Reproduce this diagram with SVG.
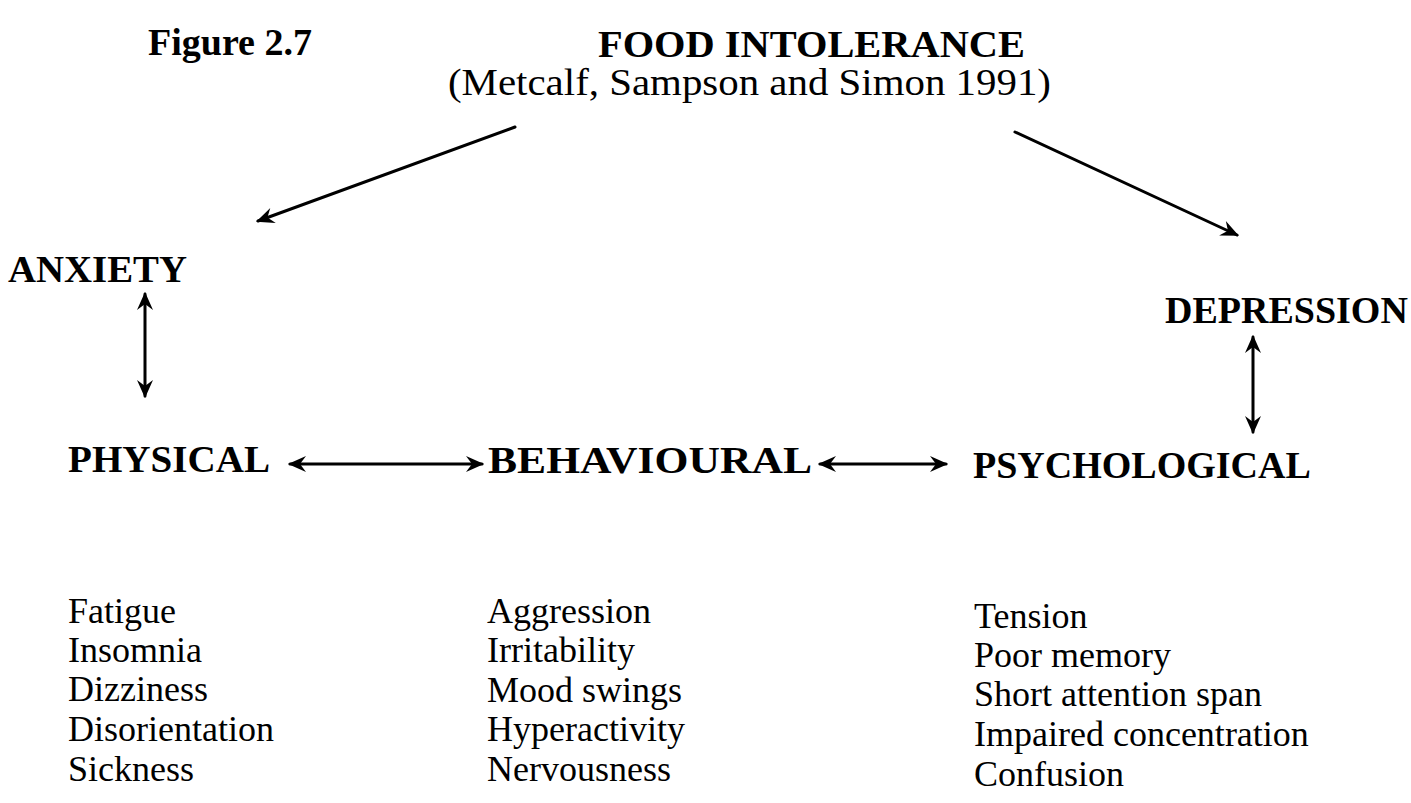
<svg xmlns="http://www.w3.org/2000/svg" width="1411" height="803" viewBox="0 0 1411 803">
  <style>
    .bold { font-family: "Liberation Serif", "Times New Roman", serif; font-weight: bold; font-size: 38px; fill: #000; }
    .reg { font-family: "Liberation Serif", "Times New Roman", serif; font-size: 36px; fill: #000; }
    .sub { font-family: "Liberation Serif", "Times New Roman", serif; font-size: 38px; fill: #000; }
    .link { stroke: #000; stroke-width: 3; fill: none; stroke-linecap: round; }
  </style>
  <defs>
    <marker id="head" viewBox="-18 -10 22 20" markerWidth="22" markerHeight="20" refX="0" refY="0" orient="auto-start-reverse" markerUnits="userSpaceOnUse">
      <path d="M2,0 L-16,-8 L-10,0 L-16,8 Z" fill="#000"/>
    </marker>
  </defs>
  <rect width="1411" height="803" fill="#fff"/>

  <g id="title">
    <text class="bold" x="148" y="55">Figure 2.7</text>
  </g>
  <g id="food-intolerance">
    <text class="bold" x="598" y="57" textLength="427" lengthAdjust="spacingAndGlyphs">FOOD INTOLERANCE</text>
    <text class="sub" x="448" y="95" textLength="603" lengthAdjust="spacingAndGlyphs">(Metcalf, Sampson and Simon 1991)</text>
  </g>
  <g id="anxiety">
    <text class="bold" x="8" y="282" textLength="179" lengthAdjust="spacingAndGlyphs">ANXIETY</text>
  </g>
  <g id="depression">
    <text class="bold" x="1165" y="323">DEPRESSION</text>
  </g>
  <g id="physical">
    <text class="bold" x="68" y="472" textLength="202" lengthAdjust="spacingAndGlyphs">PHYSICAL</text>
    <text class="reg" x="68" y="623">Fatigue</text>
    <text class="reg" x="68" y="662">Insomnia</text>
    <text class="reg" x="68" y="701">Dizziness</text>
    <text class="reg" x="68" y="741">Disorientation</text>
    <text class="reg" x="68" y="781">Sickness</text>
  </g>
  <g id="behavioural">
    <text class="bold" x="488" y="473" textLength="324" lengthAdjust="spacingAndGlyphs">BEHAVIOURAL</text>
    <text class="reg" x="487" y="623">Aggression</text>
    <text class="reg" x="487" y="662">Irritability</text>
    <text class="reg" x="487" y="702">Mood swings</text>
    <text class="reg" x="487" y="741">Hyperactivity</text>
    <text class="reg" x="487" y="781">Nervousness</text>
  </g>
  <g id="psychological">
    <text class="bold" x="973" y="478">PSYCHOLOGICAL</text>
    <text class="reg" x="974" y="628">Tension</text>
    <text class="reg" x="974" y="667">Poor memory</text>
    <text class="reg" x="974" y="706">Short attention span</text>
    <text class="reg" x="974" y="746">Impaired concentration</text>
    <text class="reg" x="974" y="786">Confusion</text>
  </g>

  <g id="connectors">
    <line class="link" x1="515" y1="127" x2="258" y2="221" marker-end="url(#head)"/>
    <line class="link" x1="1015" y1="132" x2="1237" y2="235" marker-end="url(#head)"/>
    <line class="link" x1="145" y1="294" x2="145" y2="396" marker-start="url(#head)" marker-end="url(#head)"/>
    <line class="link" x1="290" y1="464" x2="482" y2="464" marker-start="url(#head)" marker-end="url(#head)"/>
    <line class="link" x1="820" y1="464" x2="946" y2="464" marker-start="url(#head)" marker-end="url(#head)"/>
    <line class="link" x1="1253" y1="337" x2="1253" y2="432" marker-start="url(#head)" marker-end="url(#head)"/>
  </g>
</svg>
